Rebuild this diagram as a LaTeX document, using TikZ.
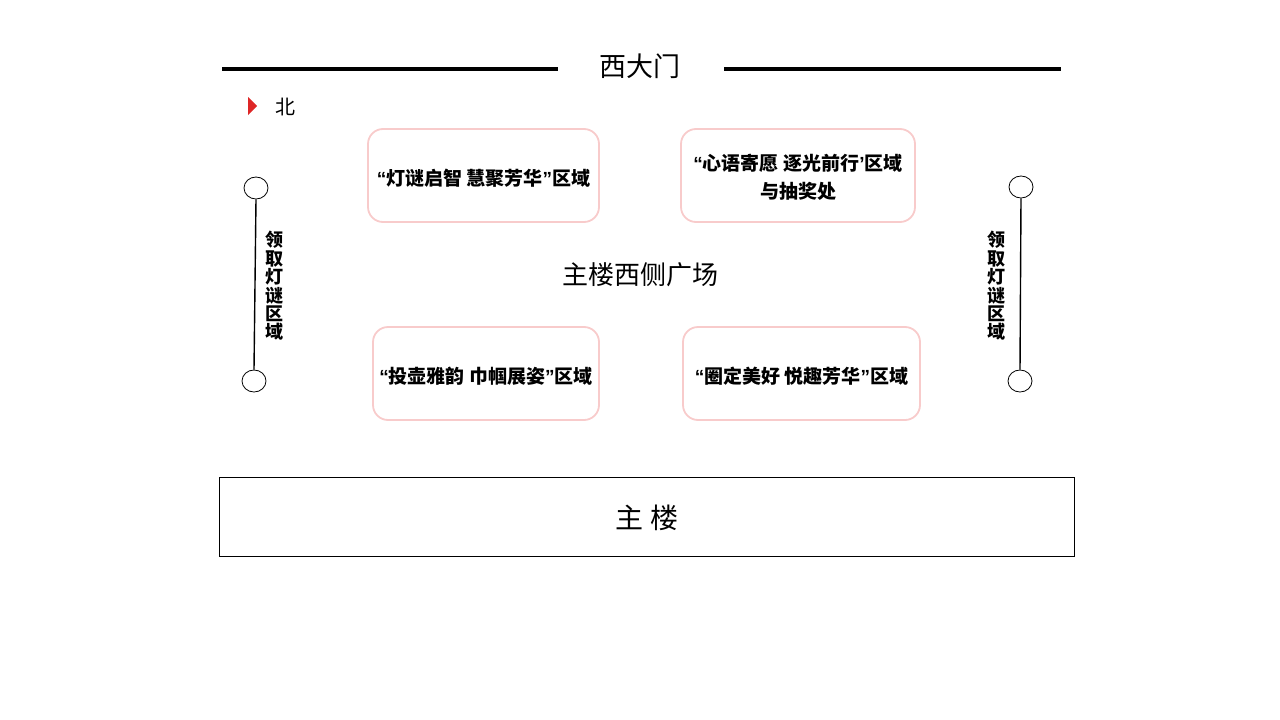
\documentclass[tikz,border=0pt]{standalone}
\usepackage{fontspec}
\setmainfont{Noto Sans CJK SC}
\newfontfamily\latinquote{Liberation Sans}
\newcommand{\zoneopen}{{\latinquote\bfseries “}}
\newcommand{\zoneclose}{{\latinquote\bfseries ”}}
\newcommand{\zonesingle}{{\latinquote\bfseries ’}}
\usetikzlibrary{shapes.geometric}
\definecolor{pinkline}{RGB}{248,203,203}
\definecolor{arrowred}{RGB}{222,38,38}
\begin{document}
\begin{tikzpicture}[x=1pt,y=-1pt,
  zonebox/.style={draw=pinkline,line width=1.8pt,rounded corners=15pt,fill=white,inner sep=0pt},
  zonetext/.style={align=center,font=\fontsize{19}{28}\selectfont\bfseries,inner sep=0pt},
  endcircle/.style={draw=black,line width=0.8pt,ellipse,minimum width=24pt,minimum height=22pt,inner sep=0pt,fill=white},
  vtext/.style={align=center,font=\fontsize{18}{18.4}\selectfont\bfseries,inner sep=0pt},
  gateline/.style={line width=4pt}]
\useasboundingbox (0,0) rectangle (1280,720);
% gate
\node (gate) at (640,66) {\fontsize{27}{30}\selectfont 西大门};
\coordinate (gl1) at (222,69); \coordinate (gl2) at (558,69);
\coordinate (gr1) at (724,69); \coordinate (gr2) at (1061,69);
\draw[gateline] (gl1) -- (gl2);
\draw[gateline] (gr1) -- (gr2);
% north
\fill[arrowred] (248,97) -- (257,106) -- (248,115) -- cycle;
\node (north) at (285,107) {\fontsize{20}{22}\selectfont 北};
% zone boxes
\node[zonebox,minimum width=231pt,minimum height=93pt] (z1) at (483.5,175.5) {};
\node[zonetext] (z1t) at ([yshift=-2.5pt]z1.center) {\zoneopen 灯谜启智 慧聚芳华\zoneclose 区域};
\node[zonebox,minimum width=234pt,minimum height=93pt] (z2) at (798,175.5) {};
\node[zonetext] (z2t) at ([yshift=-2pt]z2.center) {\zoneopen 心语寄愿 逐光前行\zonesingle 区域\\与抽奖处};
\node[zonebox,minimum width=226pt,minimum height=93pt] (z3) at (486,373.5) {};
\node[zonetext] (z3t) at ([yshift=-2.5pt]z3.center) {\zoneopen 投壶雅韵 巾帼展姿\zoneclose 区域};
\node[zonebox,minimum width=237pt,minimum height=93pt] (z4) at (801.5,373.5) {};
\node[zonetext] (z4t) at ([yshift=-2.5pt]z4.center) {\zoneopen 圈定美好 悦趣芳华\zoneclose 区域};
% centre
\node (square) at (640,275) {\fontsize{26}{30}\selectfont 主楼西侧广场};
% left riddle area
\node[endcircle] (lc1) at (256,188) {};
\node[endcircle] (lc2) at (254,381) {};
\draw[line width=1.4pt] (lc1.south) -- (lc2.north);
\node[vtext] (lt) at (274,286) {领\\取\\灯\\谜\\区\\域};
% right riddle area
\node[endcircle] (rc1) at (1021,187) {};
\node[endcircle] (rc2) at (1020,381) {};
\draw[line width=1.4pt] (rc1.south) -- (rc2.north);
\node[vtext] (rt) at (996,286) {领\\取\\灯\\谜\\区\\域};
% main building
\node[draw=black,line width=0.8pt,minimum width=855pt,minimum height=79pt,inner sep=0pt] (main) at (646.5,516.5) {};
\node (mainlabel) at (647,518) {\fontsize{28}{30}\selectfont 主 楼};
\end{tikzpicture}
\end{document}
